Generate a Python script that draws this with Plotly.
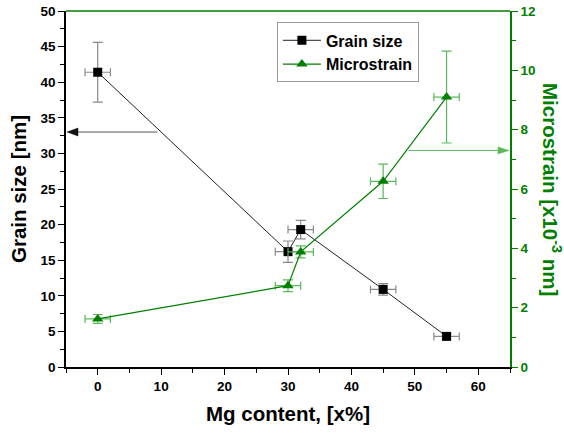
import plotly.graph_objects as go

# Mg content [x%]
mg = [0, 30, 32, 45, 55]
mg_err = [2, 2, 2, 2, 2]

# Grain size [nm]
grain = [41.4, 16.2, 19.3, 10.9, 4.3]
grain_err = [4.2, 1.5, 1.3, 0.8, 0.4]

# Microstrain [x10^-3 nm]
strain = [1.62, 2.74, 3.88, 6.26, 9.1]
strain_err = [0.15, 0.2, 0.2, 0.58, 1.55]

FONT = "Arial, Liberation Sans, sans-serif"
GREEN = "#008000"
LIGHT_GREEN = "#5cb85c"
TITLE_SIZE = 20.5

fig = go.Figure()

fig.add_trace(go.Scatter(
    x=mg, y=grain, name="<b>Grain size</b>", mode="lines+markers",
    line=dict(color="#222222", width=1),
    marker=dict(symbol="square", size=9, color="black"),
    error_y=dict(type="data", array=grain_err, color="#8a8a8a", thickness=1.2, width=5),
    error_x=dict(type="data", array=mg_err, color="#8a8a8a", thickness=1.2, width=4),
    yaxis="y",
))

fig.add_trace(go.Scatter(
    x=mg, y=strain, name="<b>Microstrain</b>", mode="lines+markers",
    line=dict(color=GREEN, width=1.2),
    marker=dict(symbol="triangle-up", size=10, color=GREEN),
    error_y=dict(type="data", array=strain_err, color=LIGHT_GREEN, thickness=1.2, width=5),
    error_x=dict(type="data", array=mg_err, color=LIGHT_GREEN, thickness=1.2, width=4),
    yaxis="y2",
))

tickfont = dict(family=FONT, size=13.5, color="black", weight="bold")

fig.update_layout(
    width=564, height=437,
    margin=dict(l=66, r=54, t=11, b=70),
    paper_bgcolor="white", plot_bgcolor="white",
    font=dict(family=FONT),
    showlegend=True,
    legend=dict(
        x=0.475, y=0.968, xanchor="left", yanchor="top",
        bgcolor="white", bordercolor="#999999", borderwidth=1,
        font=dict(family=FONT, size=16, color="black", weight="bold"),
        tracegroupgap=0, itemwidth=38,
    ),
    xaxis=dict(
        range=[-5, 65], tickmode="array", tickvals=[0, 10, 20, 30, 40, 50, 60],
        automargin=False,
        showgrid=False, zeroline=False, showline=True, linecolor="black", linewidth=1.5,
        ticks="outside", ticklen=6, tickwidth=1.2, tickcolor="black",
        minor=dict(tickvals=[-5, 5, 15, 25, 35, 45, 55, 65], ticks="outside",
                   ticklen=4, tickwidth=1.2, tickcolor="black"),
        tickfont=tickfont,
        title=dict(text="<b>Mg content, [x%]</b>", standoff=14,
                   font=dict(family=FONT, size=TITLE_SIZE, color="black")),
    ),
    yaxis=dict(
        range=[0, 50], tickmode="array", tickvals=list(range(0, 51, 5)),
        automargin=False,
        showgrid=False, zeroline=False, showline=True, linecolor="black", linewidth=1.5,
        ticks="outside", ticklen=6, tickwidth=1.2, tickcolor="black",
        minor=dict(tickvals=[2.5 + 5 * i for i in range(10)], ticks="outside",
                   ticklen=4, tickwidth=1.2, tickcolor="black"),
        tickfont=tickfont,
        title=dict(text="<b>Grain size [nm]</b>", standoff=8,
                   font=dict(family=FONT, size=TITLE_SIZE, color="black")),
    ),
    yaxis2=dict(
        range=[0, 12], overlaying="y", side="right",
        tickmode="array", tickvals=list(range(0, 13, 2)),
        automargin=False,
        showgrid=False, zeroline=False, showline=True, linecolor=GREEN, linewidth=1.5,
        ticks="outside", ticklen=6, tickwidth=1.2, tickcolor=GREEN,
        minor=dict(tickvals=[1, 3, 5, 7, 9, 11], ticks="outside",
                   ticklen=4, tickwidth=1.2, tickcolor=GREEN),
        tickfont=dict(family=FONT, size=13.5, color=GREEN, weight="bold"),
    ),
    shapes=[
        # green top frame line
        dict(type="line", xref="paper", yref="paper", x0=0, x1=1, y0=1, y1=1,
             line=dict(color=GREEN, width=1.5)),
        # arrow shaft towards the grain-size axis
        dict(type="line", xref="x", yref="y", x0=9.4, x1=-4.0, y0=33, y1=33,
             line=dict(color="#555555", width=1)),
        # its head (pixel-sized triangle anchored on the axis)
        dict(type="path", xref="x", yref="y", xsizemode="pixel", ysizemode="pixel",
             xanchor=-5, yanchor=33, path="M 1 0 L 12 4 L 12 -4 Z",
             fillcolor="#111111", line=dict(color="#111111", width=0.5)),
        # arrow shaft towards the microstrain axis
        dict(type="line", xref="x", yref="y2", x0=49, x1=63.5, y0=7.3, y1=7.3,
             line=dict(color=LIGHT_GREEN, width=1)),
        dict(type="path", xref="x", yref="y2", xsizemode="pixel", ysizemode="pixel",
             xanchor=65, yanchor=7.3, path="M -1 0 L -12 3.5 L -12 -3.5 Z",
             fillcolor=LIGHT_GREEN, line=dict(color=LIGHT_GREEN, width=0.5)),
    ],
    annotations=[
        # right-hand axis title, reading downward
        dict(text="<b>Microstrain [x10<sup>-3</sup> nm]</b>", xref="paper", yref="paper",
             x=1.0, y=0.5, xshift=42, textangle=90, showarrow=False,
             xanchor="center", yanchor="middle",
             font=dict(family=FONT, size=TITLE_SIZE, color=GREEN)),
    ],
)

fig.write_html("out.html")
